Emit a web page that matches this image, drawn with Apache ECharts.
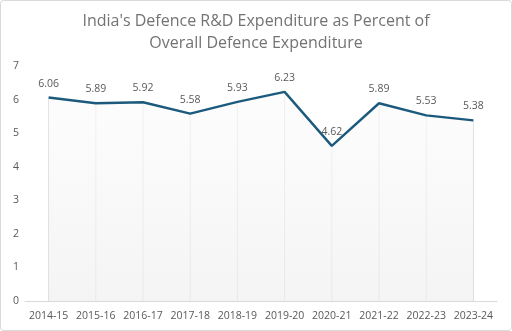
<!DOCTYPE html>
<html>
<head>
<meta charset="utf-8">
<script src="https://cdn.jsdelivr.net/npm/echarts@6/dist/echarts.min.js"></script>
<style>
  html, body { margin: 0; padding: 0; background: #fff; }
  #chart { width: 512px; height: 331px; }
</style>
</head>
<body>
<div id="chart"></div>
<script>
// Fiscal years on the category axis
const years = ['2014-15', '2015-16', '2016-17', '2017-18', '2018-19',
               '2019-20', '2020-21', '2021-22', '2022-23', '2023-24'];
// Defence R&D spend as a share (%) of total defence expenditure
const rdShare = [6.06, 5.89, 5.92, 5.58, 5.93, 6.23, 4.62, 5.89, 5.53, 5.38];
// Value axis ticks
const yTicks = [0, 1, 2, 3, 4, 5, 6, 7];

const titleText = "India's Defence R&D Expenditure as Percent of\nOverall Defence Expenditure";
const font = "'Open Sans', 'Noto Sans', sans-serif";

const chart = echarts.init(document.getElementById('chart'), null, { renderer: 'canvas' });

chart.setOption({
  animation: false,
  backgroundColor: '#ffffff',
  title: {
    text: titleText,
    left: 'center',
    top: 5,
    textStyle: {
      fontFamily: font,
      fontSize: 16,
      fontWeight: 'normal',
      color: '#737373',
      lineHeight: 22
    }
  },
  grid: { left: 25, right: 15, top: 66, bottom: 30, containLabel: false },
  xAxis: {
    type: 'category',
    data: years,
    boundaryGap: true,
    axisLine: { show: true, lineStyle: { color: '#d9d9d9', width: 1 } },
    axisTick: { show: false },
    splitLine: { show: false },
    axisLabel: {
      fontFamily: font, fontSize: 10.5, color: '#595959', margin: 10, interval: 0
    }
  },
  yAxis: {
    type: 'value',
    min: yTicks[0],
    max: yTicks[yTicks.length - 1],
    interval: 1,
    axisLine: { show: false },
    axisTick: { show: false },
    splitLine: { show: false },
    axisLabel: {
      fontFamily: font, fontSize: 10.5, color: '#595959', margin: 9,
      align: 'center'
    }
  },
  graphic: [{
    type: 'rect',
    silent: true,
    shape: { x: 0.5, y: 0.5, width: 511, height: 330, r: 3 },
    style: { fill: 'none', stroke: '#d9d9d9', lineWidth: 1 },
    z: 100
  }],
  series: [
    {
      // drop lines from each point to the category axis
      type: 'bar',
      data: rdShare,
      barWidth: 1,
      silent: true,
      itemStyle: { color: '#d6d6d6' },
      z: 1
    },
    {
      type: 'line',
      data: rdShare,
      symbol: 'circle',
      symbolSize: 1,
      showSymbol: true,
      itemStyle: { color: '#1c5a7d', opacity: 0 },
      smooth: false,
      lineStyle: { color: '#1c5a7d', width: 2.4 },
      areaStyle: {
        origin: 'start',
        color: new echarts.graphic.LinearGradient(0, 0, 0, 1, [
          { offset: 0, color: 'rgba(252,252,252,1)' },
          { offset: 1, color: 'rgba(240,240,240,1)' }
        ])
      },
      label: {
        show: true,
        position: 'top',
        distance: 8,
        fontFamily: font,
        fontSize: 10.5,
        color: '#595959',
        opacity: 1,
        formatter: p => p.value.toFixed(2)
      },
      z: 3
    }
  ]
});
</script>
</body>
</html>
